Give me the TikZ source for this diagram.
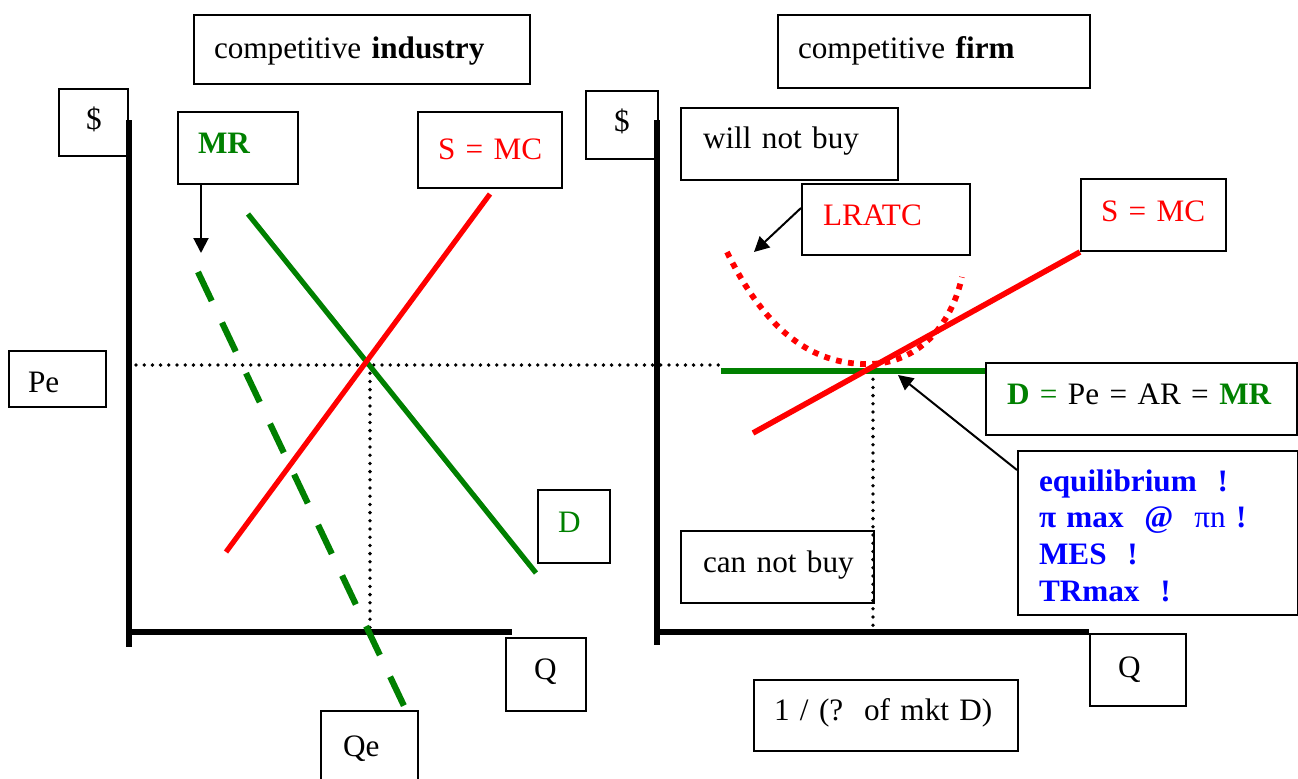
\documentclass[tikz,border=0pt]{standalone}
\usepackage{fontspec}
\setmainfont{Liberation Serif}
\usetikzlibrary{arrows.meta}
\definecolor{wgreen}{RGB}{0,128,0}
\definecolor{wred}{RGB}{255,0,0}
\definecolor{wblue}{RGB}{0,0,255}
\begin{document}
\begin{tikzpicture}[x=0.5pt,y=-0.5pt,
  frame/.style={draw, line width=1pt, anchor=north west, inner sep=0pt, align=left,
    font=\fontsize{15.6}{18.45}\selectfont},
  axisline/.style={line width=2.6pt},
  curveline/.style={line width=2.6pt},
  dotline/.style={line width=1.9pt, dash pattern=on 0pt off 4.1pt, line cap=round},
  pointer/.style={line width=1pt, -{Triangle[length=7.5pt,width=7.5pt]}},
]
\useasboundingbox (0,0) rectangle (1298,778);

% dotted guide lines
\coordinate (peL) at (136,365);
\coordinate (peR) at (725,365);
\coordinate (qeTop) at (370,365);
\coordinate (qeBot) at (370,632);
\coordinate (qfTop) at (873,371);
\coordinate (qfBot) at (873,632);
\draw[dotline] (peL) -- (peR);
\draw[dotline] (qeTop) -- (qeBot);
\draw[dotline] (qfTop) -- (qfBot);

% axes
\draw[axisline] (129,120) -- (129,647);
\draw[axisline] (129,632) -- (512,632);
\draw[axisline] (657,120) -- (657,645);
\draw[axisline] (657,632) -- (1089,632);

% industry curves
\draw[curveline, wgreen] (248,214) -- (536,573);
\draw[curveline, wred] (490,194) -- (226,552);
\draw[line width=3.1pt, wgreen, dash pattern=on 16pt off 12pt] (198,272) -- (405,708);

% firm curves
\draw[line width=2.8pt, wgreen] (721,371) -- (985,371);
\draw[line width=2.9pt, wred, dash pattern=on 2.9pt off 3.2pt]
  (727,252) .. controls (770,340) and (820,365) .. (870,364)
  .. controls (915,363) and (950,330) .. (962,277);
\draw[line width=2.8pt, wred] (753,433) -- (1080,252);

% boxes
\node[frame, text width=168pt, text height=21.5pt, text depth=13pt] (ind) at (193,14)
  {\hspace*{10pt}competitive \textbf{industry}};
\node[frame, text width=156pt, text height=21.5pt, text depth=15pt] (firm) at (777,14)
  {\hspace*{10pt}competitive \textbf{firm}};
\node[frame, text width=34.5pt, text height=20pt, text depth=13.5pt] (dolL) at (58,88)
  {\hspace*{13.5pt}\$};
\node[frame, text width=36pt, text height=20pt, text depth=14pt] (dolR) at (585,90)
  {\hspace*{14pt}\$};
\node[frame, text width=60pt, text height=20.5pt, text depth=15.5pt] (mr) at (177,111)
  {\hspace*{10pt}\textcolor{wgreen}{\textbf{MR}}};
\node[frame, text width=72pt, text height=23.5pt, text depth=14.5pt] (smcL) at (417,111)
  {\hspace*{10pt}\textcolor{wred}{S = MC}};
\node[frame, text width=108.5pt, text height=20pt, text depth=16pt] (wnb) at (680,107)
  {\hspace*{11pt}will not buy};
\node[frame, text width=84pt, text height=20.5pt, text depth=15pt] (lratc) at (801,183)
  {\hspace*{10.5pt}\textcolor{wred}{LRATC}};
\node[frame, text width=72.5pt, text height=21pt, text depth=15pt] (smcR) at (1080,178)
  {\hspace*{10pt}\textcolor{wred}{S = MC}};
\node[frame, text width=48.5pt, text height=20.5pt, text depth=7.5pt] (pe) at (8,350)
  {\hspace*{9.5pt}Pe};
\node[frame, text width=155.5pt, text height=20.5pt, text depth=15.5pt] (dpe) at (985,362)
  {\hspace*{10.5pt}\textcolor{wgreen}{\textbf{D} =} Pe = AR = \textcolor{wgreen}{\textbf{MR}}};
\node[frame, text width=140pt, text height=20pt, text depth=62pt, text=wblue] (eq) at (1017,450)
  {\hspace*{10.5pt}\textbf{equilibrium\ \ !}\\
   \hspace*{10.5pt}\textbf{π max\ \ @\ \ }πn\textbf{\ !}\\
   \hspace*{10.5pt}\textbf{MES\ \ !}\\
   \hspace*{10.5pt}\textbf{TRmax\ \ !}};
\node[frame, text width=36pt, text height=21pt, text depth=15.5pt] (dL) at (537,489)
  {\hspace*{10pt}\textcolor{wgreen}{D}};
\node[frame, text width=96.5pt, text height=20.5pt, text depth=15.5pt] (cnb) at (680,530)
  {\hspace*{11pt}can not buy};
\node[frame, text width=40pt, text height=20.5pt, text depth=16pt] (qL) at (505,637)
  {\hspace*{14pt}Q};
\node[frame, text width=48pt, text height=21.5pt, text depth=14.5pt] (qR) at (1089,633)
  {\hspace*{14pt}Q};
\node[frame, text width=132pt, text height=20pt, text depth=15.5pt] (mkt) at (753,679)
  {\hspace*{10pt}1 / (?\ \ of mkt D)};
\node[frame, text width=48.5pt, text height=22.5pt, text depth=25pt] (qe) at (320,710)
  {\hspace*{11pt}Qe};

% pointers
\coordinate (mrtip) at (201,253);
\draw[pointer] (mrtip |- mr.south) -- (mrtip);
\coordinate (lrtip) at (754,252);
\draw[pointer] ([yshift=5.75pt]lratc.west) -- (lrtip);
\coordinate (eqtip) at (898,375);
\draw[pointer] ([yshift=-10pt]eq.north west) -- (eqtip);
\end{tikzpicture}
\end{document}
